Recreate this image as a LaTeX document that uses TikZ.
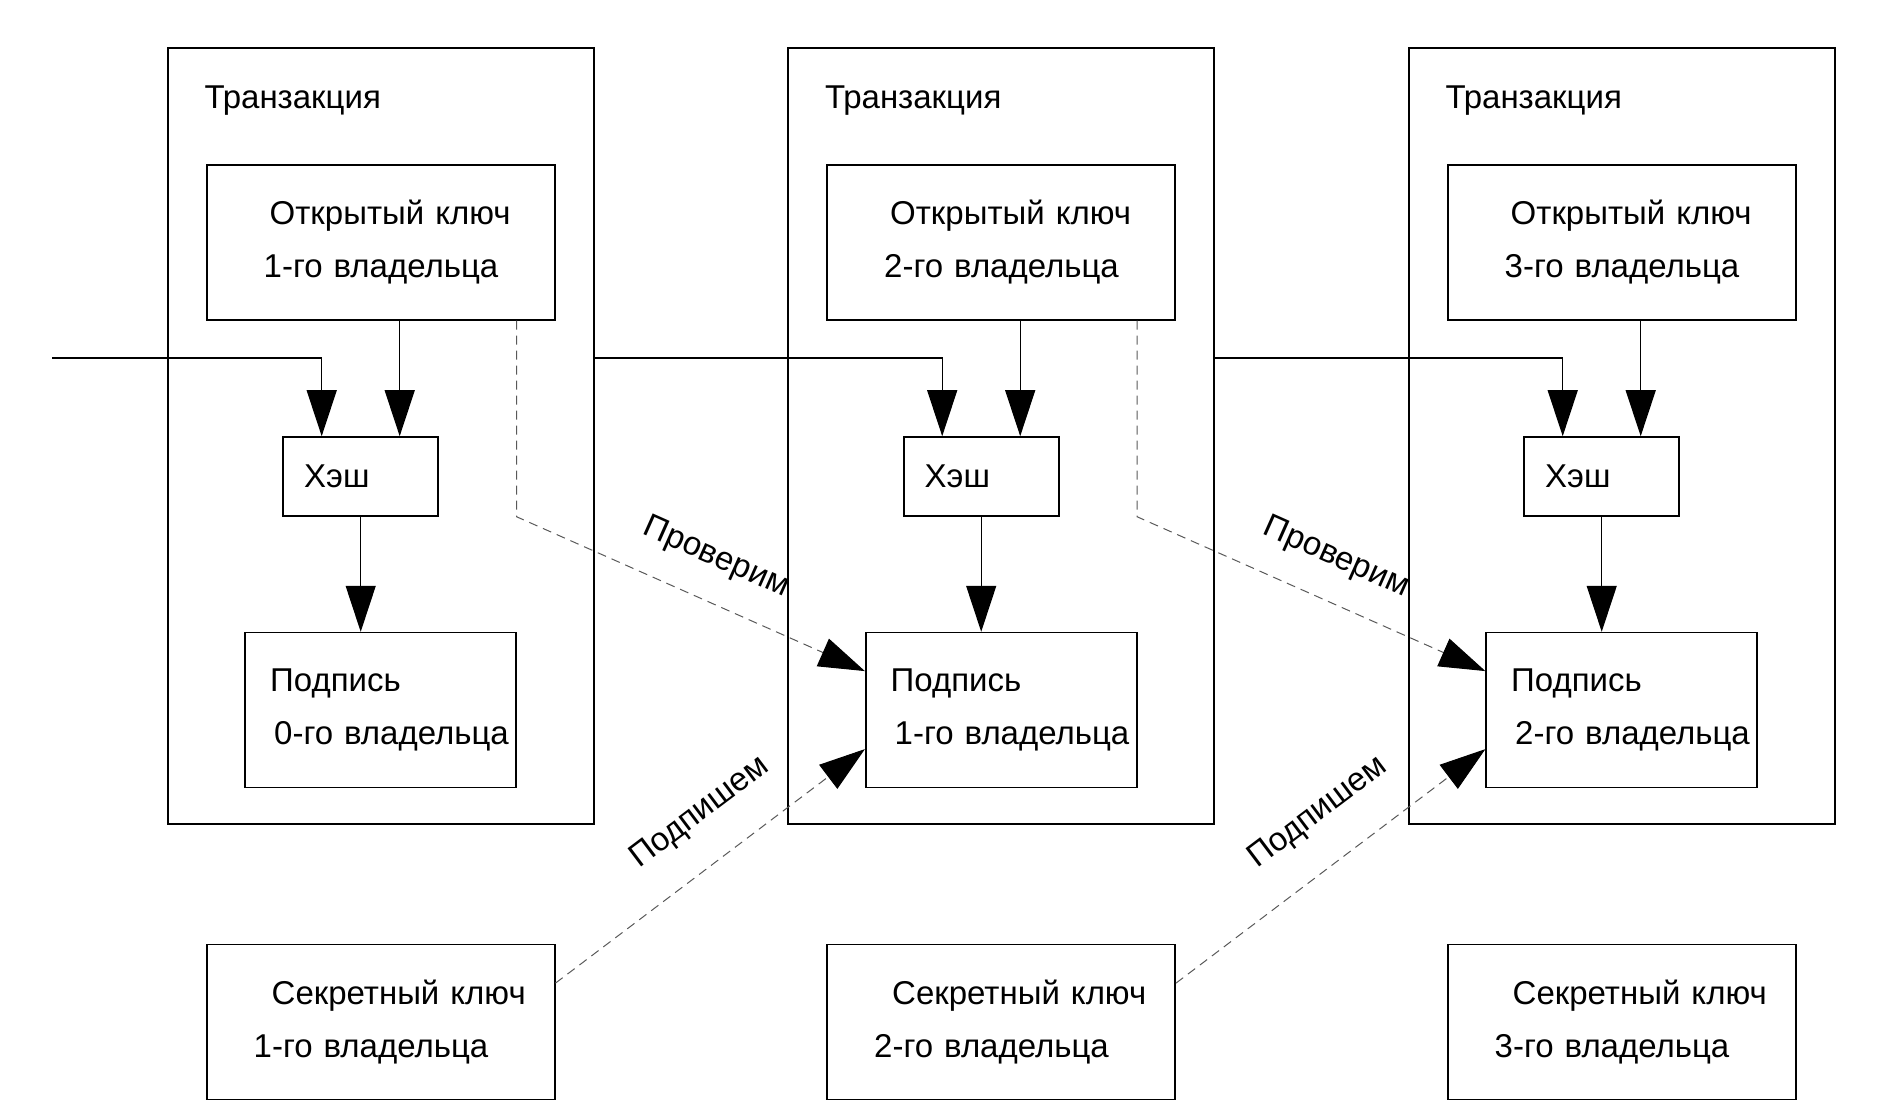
\documentclass[tikz,border=0pt]{standalone}
\usepackage{fontspec}
\setmainfont{Liberation Sans}
\usepackage{tikz}
\usetikzlibrary{positioning, arrows.meta}

\newcommand{\indline}[2]{\mbox{\hspace*{#1}#2}}

\begin{document}
\begin{tikzpicture}[
        x = 1pt, y = -1pt,
        font = \fontsize{33}{53}\selectfont,
        line width = 1.2pt
    ]
    \tikzstyle{txbox} = [draw, line width=1.6pt, minimum width=426pt, minimum height=776pt, inner sep=0pt];
    \tikzstyle{keybox} = [draw, line width=1.6pt, minimum width=348pt, minimum height=155pt, text width=348pt, inner xsep=0pt, inner ysep=0pt, align=left];
    \tikzstyle{hashbox} = [draw, line width=1.6pt, minimum width=155pt, minimum height=79pt, text width=155pt, inner xsep=0pt, inner ysep=0pt, align=left];
    \tikzstyle{sigbox} = [draw, line width=1.6pt, minimum width=271pt, minimum height=155pt, text width=271pt, inner xsep=0pt, inner ysep=0pt, align=left];
    \tikzstyle{txtitle} = [inner sep=0pt];
    \tikzstyle{flowline} = [-{Triangle[length=46pt, width=30pt]}];
    \tikzstyle{dashline} = [draw=black!65, line width=1pt, dash pattern=on 9pt off 6pt, -{Triangle[length=46pt, width=30pt, color=black]}];
    \useasboundingbox (0,0) rectangle (1900,1108);
    % transactions
    \node [txbox] (tx1) at (380.7,436.2) {};
    \node [txbox] (tx2) at (1001.2,436.2) {};
    \node [txbox] (tx3) at (1621.7,436.2) {};
    \node [txtitle, below right = 38pt and 37pt of tx1.north west] (ttx1) {Транзакция};
    \node [txtitle, below right = 38pt and 37pt of tx2.north west] (ttx2) {Транзакция};
    \node [txtitle, below right = 38pt and 37pt of tx3.north west] (ttx3) {Транзакция};
    % public keys
    \node [keybox, below = 116.5pt of tx1.north] (pk1) {\indline{63pt}{Открытый ключ}\\\indline{57pt}{1-го владельца}};
    \node [keybox, below = 116.5pt of tx2.north] (pk2) {\indline{63pt}{Открытый ключ}\\\indline{57pt}{2-го владельца}};
    \node [keybox, below = 116.5pt of tx3.north] (pk3) {\indline{63pt}{Открытый ключ}\\\indline{57pt}{3-го владельца}};
    % hashes
    \node [hashbox, below = 115.7pt of pk1.south, xshift = -20pt] (hash1) {\indline{21pt}{Хэш}};
    \node [hashbox, below = 115.7pt of pk2.south, xshift = -20pt] (hash2) {\indline{21pt}{Хэш}};
    \node [hashbox, below = 115.7pt of pk3.south, xshift = -20pt] (hash3) {\indline{21pt}{Хэш}};
    % signatures
    \node [sigbox, below = 115pt of hash1.south, xshift = 20pt] (sig1) {\indline{25pt}{Подпись}\\\indline{29pt}{0-го владельца}};
    \node [sigbox, below = 115pt of hash2.south, xshift = 20pt] (sig2) {\indline{25pt}{Подпись}\\\indline{29pt}{1-го владельца}};
    \node [sigbox, below = 115pt of hash3.south, xshift = 20pt] (sig3) {\indline{25pt}{Подпись}\\\indline{29pt}{2-го владельца}};
    % secret keys
    \node [keybox, below = 155.4pt of sig1.south] (sk1) {\indline{65pt}{Секретный ключ}\\\indline{47pt}{1-го владельца}};
    \node [keybox, below = 155.4pt of sig2.south] (sk2) {\indline{65pt}{Секретный ключ}\\\indline{47pt}{2-го владельца}};
    \node [keybox, below = 155.4pt of sig3.south] (sk3) {\indline{65pt}{Секретный ключ}\\\indline{47pt}{3-го владельца}};
    % chain of hashes
    \coordinate (in1) at (52,358);
    \draw [flowline] (in1) -| ([xshift=-39pt]hash1.north);
    \draw [flowline] (tx1.east |- in1) -| ([xshift=-39pt]hash2.north);
    \draw [flowline] (tx2.east |- in1) -| ([xshift=-39pt]hash3.north);
    \draw [flowline] ([xshift=39pt]hash1.north |- pk1.south) -- ([xshift=39pt]hash1.north);
    \draw [flowline] ([xshift=39pt]hash2.north |- pk2.south) -- ([xshift=39pt]hash2.north);
    \draw [flowline] ([xshift=39pt]hash3.north |- pk3.south) -- ([xshift=39pt]hash3.north);
    \draw [flowline] (hash1.south) -- (hash1.south |- sig1.north);
    \draw [flowline] (hash2.south) -- (hash2.south |- sig2.north);
    \draw [flowline] (hash3.south) -- (hash3.south |- sig3.north);
    % check and sign
    \draw [dashline] ([xshift=136pt]pk1.south) -- ([xshift=136pt]pk1.south |- hash1.south) -- ([yshift=39pt]sig2.west);
    \draw [dashline] ([xshift=136pt]pk2.south) -- ([xshift=136pt]pk2.south |- hash2.south) -- ([yshift=39pt]sig3.west);
    \draw [dashline] ([yshift=39pt]sk1.east) -- ([yshift=-39pt]sig2.west);
    \draw [dashline] ([yshift=39pt]sk2.east) -- ([yshift=-39pt]sig3.west);
    \node [rotate=-24] (chk1) at (716,558) {Проверим};
    \node [rotate=-24] (chk2) at (1336,558) {Проверим};
    \node [rotate=37] (sgn1) at (700,813) {Подпишем};
    \node [rotate=37] (sgn2) at (1318,813) {Подпишем};
\end{tikzpicture}
\end{document}
